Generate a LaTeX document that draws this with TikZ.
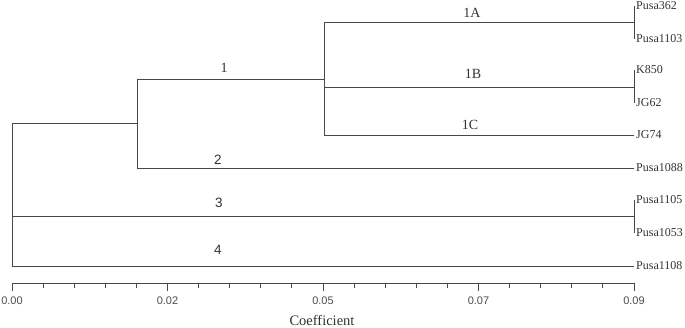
\documentclass[tikz,border=0pt]{standalone}
\usepackage{fontspec}
\setmainfont{Liberation Serif}
\setsansfont{Liberation Sans}
\begin{document}
\begin{tikzpicture}[x=1pt,y=-1pt,
  branch/.style={draw=black!72,line width=0.9pt},
  leaf/.style={anchor=west,inner sep=2pt,font=\fontsize{12}{13}\selectfont,text=black!80},
  grp/.style={inner sep=0pt,font=\fontsize{14}{15}\selectfont,text=black!80},
  grps/.style={inner sep=0pt,font=\sffamily\fontsize{13.5}{15}\selectfont,text=black!80},
  ticklab/.style={inner sep=0pt,font=\sffamily\fontsize{11}{12}\selectfont,text=black!70},
  junction/.style={coordinate}]
\useasboundingbox (0,0) rectangle (685,327);
% junctions
\node[junction] (root) at (12,123) {};
\node[junction] (rootb) at (12,266) {};
\node[junction] (n12) at (137,123) {};
\node[junction] (n12t) at (137,79) {};
\node[junction] (n12b) at (137,168) {};
\node[junction] (n1) at (324,79) {};
\node[junction] (n1t) at (324,22) {};
\node[junction] (n1m) at (324,87) {};
\node[junction] (n1b) at (324,135) {};
\node[junction] (r3) at (12,216.5) {};
\node[junction] (a1A) at (634,22) {};
\node[junction] (a1B) at (634,87) {};
\node[junction] (a3) at (634,216.5) {};
\node[junction] (a1At) at (634,6) {};
\node[junction] (a1Ab) at (634,39) {};
\node[junction] (a1Bt) at (634,70) {};
\node[junction] (a1Bb) at (634,103) {};
\node[junction] (a3t) at (634,200) {};
\node[junction] (a3b) at (634,233) {};
% leaves
\node[leaf] (Pusa362) at (a1At) {Pusa362};
\node[leaf] (Pusa1103) at (a1Ab) {Pusa1103};
\node[leaf] (K850) at (a1Bt) {K850};
\node[leaf] (JG62) at (a1Bb) {JG62};
\node[leaf] (JG74) at (634,135) {JG74};
\node[leaf] (Pusa1088) at (634,168) {Pusa1088};
\node[leaf] (Pusa1105) at (a3t) {Pusa1105};
\node[leaf] (Pusa1053) at (a3b) {Pusa1053};
\node[leaf] (Pusa1108) at (634,266) {Pusa1108};
% tree
\draw[branch] (rootb) -- (root) -- (n12);
\draw[branch] (n12t) -- (n12b);
\draw[branch] (n12t) -- (n1);
\draw[branch] (n12b) -- (Pusa1088.west);
\draw[branch] (n1t) -- (n1b);
\draw[branch] (n1t) -- (a1A);
\draw[branch] (n1m) -- (a1B);
\draw[branch] (n1b) -- (JG74.west);
\draw[branch] (a1At) -- (a1Ab);
\draw[branch] (a1Bt) -- (a1Bb);
\draw[branch] (r3) -- (a3);
\draw[branch] (a3t) -- (a3b);
\draw[branch] (rootb) -- (Pusa1108.west);
% group labels
\node[grp] (g1) at (224,68) {1};
\node[grp] (g1A) at (472,13) {1A};
\node[grp] (g1B) at (473,74) {1B};
\node[grp] (g1C) at (470,125) {1C};
\node[grps] (g2) at (218,160) {2};
\node[grps] (g3) at (219,203) {3};
\node[grps] (g4) at (218,250) {4};
% axis
\node[junction] (ax0) at (12,283) {};
\node[junction] (ax1) at (634,283) {};
\draw[branch] (ax0) -- (ax1);
\foreach \i in {1,2,3,4,6,7,8,9,11,12,13,14,16,17,18,19}
  \draw[branch] ({12+\i*31.1},283) -- ({12+\i*31.1},287.5);
\foreach \i/\l in {0/0.00,5/0.02,10/0.05,15/0.07,20/0.09}{
  \draw[branch] ({12+\i*31.1},283) -- ({12+\i*31.1},291);
  \node[ticklab] (t\i) at ({12+\i*31.1},300.5) {\l};
}
\node[inner sep=0pt,font=\fontsize{14.5}{16}\selectfont,text=black!80] (coef) at (322,320) {Coefficient};
\end{tikzpicture}
\end{document}
